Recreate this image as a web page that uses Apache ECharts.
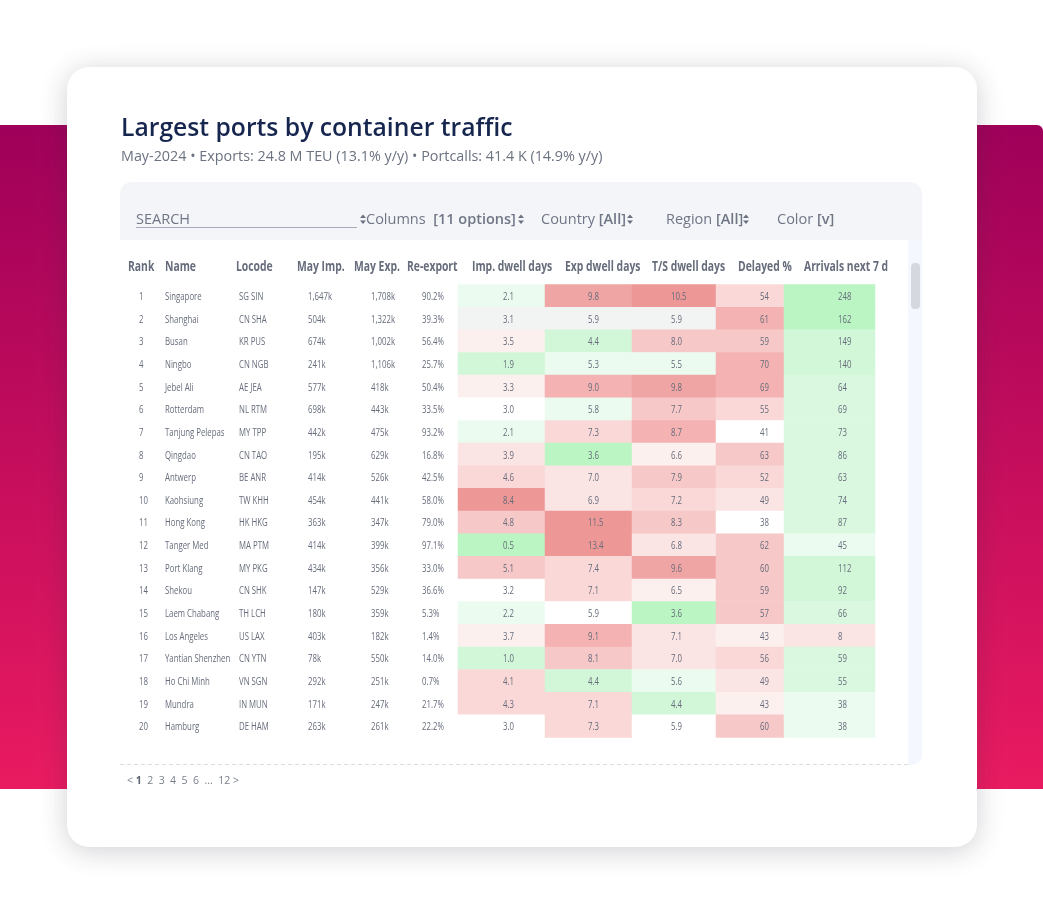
<!DOCTYPE html>
<html>
<head>
<meta charset="utf-8">
<style>html,body{margin:0;padding:0;background:#fff}#chart{width:1043px;height:914px}</style>
<script src="https://cdn.jsdelivr.net/npm/echarts@6/dist/echarts.min.js"></script>
</head>
<body>
<div id="chart"></div>
<script>
// table data, top 20 ports
var ranks = [1,2,3,4,5,6,7,8,9,10,11,12,13,14,15,16,17,18,19,20];
var names = ['Singapore','Shanghai','Busan','Ningbo','Jebel Ali','Rotterdam','Tanjung Pelepas','Qingdao','Antwerp','Kaohsiung','Hong Kong','Tanger Med','Port Klang','Shekou','Laem Chabang','Los Angeles','Yantian Shenzhen','Ho Chi Minh','Mundra','Hamburg'];
var locodes = ['SG SIN','CN SHA','KR PUS','CN NGB','AE JEA','NL RTM','MY TPP','CN TAO','BE ANR','TW KHH','HK HKG','MA PTM','MY PKG','CN SHK','TH LCH','US LAX','CN YTN','VN SGN','IN MUN','DE HAM'];
var mayImp = [1647,504,674,241,577,698,442,195,414,454,363,414,434,147,180,403,78,292,171,263];
var mayExp = [1708,1322,1002,1106,418,443,475,629,526,441,347,399,356,529,359,182,550,251,247,261];
var reExport = [90.2,39.3,56.4,25.7,50.4,33.5,93.2,16.8,42.5,58.0,79.0,97.1,33.0,36.6,5.3,1.4,14.0,0.7,21.7,22.2];
var impDwell = [2.1,3.1,3.5,1.9,3.3,3.0,2.1,3.9,4.6,8.4,4.8,0.5,5.1,3.2,2.2,3.7,1.0,4.1,4.3,3.0];
var expDwell = [9.8,5.9,4.4,5.3,9.0,5.8,7.3,3.6,7.0,6.9,11.5,13.4,7.4,7.1,5.9,9.1,8.1,4.4,7.1,7.3];
var tsDwell = [10.5,5.9,8.0,5.5,9.8,7.7,8.7,6.6,7.9,7.2,8.3,6.8,9.6,6.5,3.6,7.1,7.0,5.6,4.4,5.9];
var delayed = [54,61,59,70,69,55,41,63,52,49,38,62,60,59,57,43,56,49,43,60];
var arrivals = [248,162,149,140,64,69,73,86,63,74,87,45,112,92,66,8,59,55,38,38];

// colour ramp and per column bins: [upper bound, ramp index]
var ramp = ['#bbf5c3','#d2f7d8','#daf8e0','#ebfbf0','#ffffff','#fcf0ef','#fbe4e4','#f9d8d7','#f6c8c8','#f4b2b2','#f0a5a5','#ee9797'];
var impBins = [[1,0],[2,1],[3,3],[3.3,4],[3.8,5],[4,6],[4.8,7],[6,8],[7,9],[8,10],[99,11]];
var expBins = [[4,0],[5,1],[5.85,3],[6,4],[6.8,5],[7.05,6],[8,7],[9,8],[9.5,9],[10,10],[99,11]];
var tsBins = [[4,0],[5,1],[5.8,3],[6,4],[6.7,5],[7.15,6],[7.5,7],[8.5,8],[9,9],[10,10],[99,11]];
var delayedBins = [[42,4],[48,5],[50,6],[57,7],[65,8],[75,9],[99,10]];
var arrivalsBins = [[20,6],[50,3],[90,2],[200,1],[999,0]];
var hoverRow = 1; // Shanghai row is hovered in the screenshot

var textColor = '#666c7b';
var condensed = 0.71; // no condensed font installed, squeeze Open Sans instead

function thousands(v) { return String(v).replace(/\B(?=(\d{3})+$)/, ',') + 'k'; }
function cellColor(v, bins, row) {
    var lvl = 0;
    for (var i = 0; i < bins.length; i++) {
        if (v < bins[i][0]) { lvl = bins[i][1]; break; }
    }
    if (row === hoverRow) {
        if (lvl === 4) return '#f2f3f3';
        lvl += lvl < 4 ? -1 : 1;
    }
    return ramp[lvl];
}

// text columns: label x position
var textCols = [
    {x: 139, title: 'Rank', hx: 128, get: function (i) { return String(ranks[i]); }},
    {x: 165, title: 'Name', hx: 165, get: function (i) { return names[i]; }},
    {x: 239, title: 'Locode', hx: 236, get: function (i) { return locodes[i]; }},
    {x: 308, title: 'May Imp.', hx: 297, get: function (i) { return thousands(mayImp[i]); }},
    {x: 371, title: 'May Exp.', hx: 354, get: function (i) { return thousands(mayExp[i]); }},
    {x: 422, title: 'Re-export', hx: 407, get: function (i) { return reExport[i].toFixed(1) + '%'; }}
];
// heat columns: cell left/right, label offset inside the cell
var heatCols = [
    {l: 458, r: 545, off: 45, title: 'Imp. dwell days', hx: 472, vals: impDwell, bins: impBins, dec: 1},
    {l: 545, r: 632, off: 43, title: 'Exp dwell days', hx: 565, vals: expDwell, bins: expBins, dec: 1},
    {l: 632, r: 716, off: 39, title: 'T/S dwell days', hx: 652, vals: tsDwell, bins: tsBins, dec: 1},
    {l: 716, r: 784, off: 44, title: 'Delayed %', hx: 738, vals: delayed, bins: delayedBins, dec: 0},
    {l: 784, r: 875, off: 54, title: 'Arrivals next 7 d', hx: 804, vals: arrivals, bins: arrivalsBins, dec: 0}
];

var tableTop = 284.5, tableH = 453;
var grids = [], xAxes = [], yAxes = [], series = [];

function addAxes(left, width) {
    var k = grids.length;
    grids.push({left: left, width: width, top: tableTop, height: tableH});
    xAxes.push({type: 'category', gridIndex: k, data: ['c'], show: false});
    yAxes.push({type: 'category', gridIndex: k, data: names, inverse: true, show: false});
    return k;
}
// row labels as squeezed text, dx is from the column centre
function labelSeries(k, dx, textOf) {
    return {
        type: 'custom', xAxisIndex: k, yAxisIndex: k, silent: true, z: 5,
        data: ranks.map(function (r, i) { return [0, i]; }),
        renderItem: function (params, api) {
            var pt = api.coord([0, api.value(1)]);
            return {
                type: 'text', x: pt[0] + dx, y: pt[1] + 1, scaleX: condensed,
                style: {
                    text: textOf(params.dataIndex), fontFamily: '"Open Sans"', fontWeight: 500, fontSize: 11,
                    fill: textColor, align: 'left', verticalAlign: 'middle'
                }
            };
        }
    };
}

textCols.forEach(function (c) {
    var k = addAxes(c.x - 1, 2);
    series.push(labelSeries(k, 0, c.get));
});
heatCols.forEach(function (c) {
    var k = addAxes(c.l, c.r - c.l);
    series.push({
        type: 'heatmap', xAxisIndex: k, yAxisIndex: k, silent: true,
        data: c.vals.map(function (v, i) {
            return {value: [0, i, v], itemStyle: {color: cellColor(v, c.bins, i)}};
        })
    });
    series.push(labelSeries(k, c.off - (c.r - c.l) / 2, function (i) { return c.vals[i].toFixed(c.dec); }));
});

// page furniture behind the table
function headerText(t, x) {
    return {type: 'text', x: x, y: 267, scaleX: 0.74, style: {text: t, fontFamily: '"Open Sans"', fontWeight: 'bold', fontSize: 14, fill: textColor, verticalAlign: 'middle'}};
}
function spinner(x) {
    return [
        {type: 'polygon', shape: {points: [[x, 218], [x + 6, 218], [x + 3, 214.5]]}, style: {fill: '#6b7180'}},
        {type: 'polygon', shape: {points: [[x, 220.5], [x + 6, 220.5], [x + 3, 224]]}, style: {fill: '#6b7180'}}
    ];
}
function control(x, rich) {
    return {type: 'text', x: x, y: 220, style: {
        text: rich, fontFamily: '"Open Sans"', fontSize: 14.5, fill: '#6f7686', verticalAlign: 'middle',
        rich: {b: {fontFamily: '"Open Sans"', fontWeight: 600, fontSize: 14.5, fill: '#6f7686'}}
    }};
}
var bandFill = new echarts.graphic.LinearGradient(0, 0, 0, 1, [
    {offset: 0, color: '#9f0059'}, {offset: 1, color: '#e91a60'}
]);
var furniture = [
    {type: 'rect', shape: {x: 0, y: 125, width: 80, height: 664}, style: {fill: bandFill}},
    {type: 'rect', shape: {x: 960, y: 125, width: 83, height: 664, r: [0, 6, 0, 0]}, style: {fill: bandFill}},
    {type: 'rect', shape: {x: 67, y: 67, width: 910, height: 780, r: 22}, style: {fill: '#fff', shadowBlur: 28, shadowColor: 'rgba(40,40,60,0.22)', shadowOffsetY: 4}},
    {type: 'rect', shape: {x: 120, y: 182, width: 802, height: 58, r: [12, 12, 0, 0]}, style: {fill: '#f4f5f8'}},
    {type: 'rect', shape: {x: 908, y: 240, width: 14, height: 525, r: [0, 0, 10, 0]}, style: {fill: '#f5f7fe'}},
    {type: 'rect', shape: {x: 911, y: 263, width: 9, height: 46, r: 4}, style: {fill: '#d5d8de'}},
    {type: 'line', shape: {x1: 120, y1: 764.5, x2: 908, y2: 764.5}, style: {stroke: '#dcdde0', lineWidth: 1, lineDash: [4, 3]}},
    {type: 'line', shape: {x1: 136, y1: 227.5, x2: 357, y2: 227.5}, style: {stroke: '#a6aab6', lineWidth: 1}},
    {type: 'text', x: 121, y: 129, style: {text: 'Largest ports by container traffic', fontFamily: '"Open Sans"', fontWeight: 600, fontSize: 24.7, fill: '#16264f', verticalAlign: 'middle'}},
    {type: 'text', x: 121, y: 157, style: {text: 'May-2024 \u2022 Exports: 24.8 M TEU (13.1% y/y) \u2022 Portcalls: 41.4 K (14.9% y/y)', fontFamily: '"Open Sans"', fontSize: 14.35, fill: '#6b7280', verticalAlign: 'middle'}},
    control(136, 'SEARCH'),
    control(366, 'Columns  {b|[11 options]}'),
    control(541, 'Country {b|[All]}'),
    control(666, 'Region {b|[All]}'),
    control(777, 'Color {b|[v]}'),
    {type: 'text', x: 127, y: 781, style: {
        text: '< {b|1}  2  3  4  5  6  ...  12 >', fontFamily: '"Open Sans"', fontSize: 10.5, fill: '#7a808c', verticalAlign: 'middle',
        rich: {b: {fontFamily: '"Open Sans"', fontWeight: 'bold', fontSize: 10.5, fill: '#5d6472'}}
    }}
].concat(spinner(360), spinner(518), spinner(627), spinner(743));
textCols.forEach(function (c) { furniture.push(headerText(c.title, c.hx)); });
heatCols.forEach(function (c) { furniture.push(headerText(c.title, c.hx)); });

var myChart = echarts.init(document.getElementById('chart'));
myChart.setOption({
    animation: false,
    backgroundColor: '#fff',
    graphic: {elements: furniture},
    grid: grids,
    xAxis: xAxes,
    yAxis: yAxes,
    series: series
});
</script>
</body>
</html>
